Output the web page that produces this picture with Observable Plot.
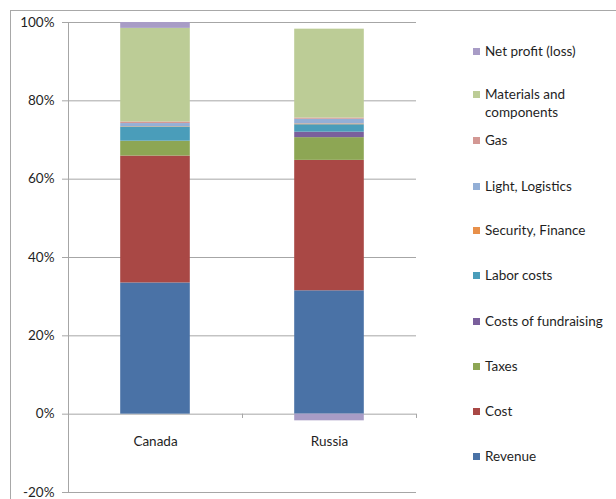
<!DOCTYPE html>
<html>
<head>
<meta charset="utf-8">
<script src="https://cdn.jsdelivr.net/npm/d3@7"></script>
<script src="https://cdn.jsdelivr.net/npm/@observablehq/plot@0.6"></script>
<style>
  html, body { margin: 0; padding: 0; background: #fff; }
  #wrap { position: relative; width: 616px; height: 499px; overflow: hidden; font-family: Lato, "Open Sans", sans-serif; }
  #border { position: absolute; left: 10px; top: 10px; width: 640px; height: 520px; border: 1px solid #a8a8a8; box-sizing: border-box; }
  #legend { position: absolute; left: 473px; top: 0; font-size: 13.5px; color: #1f1f1f; }
  .item { position: absolute; left: 0; white-space: nowrap; line-height: 18px; }
  .sw { position: absolute; left: 0; top: 6px; width: 7px; height: 7px; }
  .lbl { position: absolute; left: 12px; top: 0; }
</style>
</head>
<body>
<div id="wrap"><div id="border"></div><div id="chart"></div><div id="legend"></div></div>
<script>
const countries = ["Canada", "Russia"];
// bottom-to-top stacking order
const series = ["Revenue", "Cost", "Taxes", "Costs of fundraising", "Labor costs", "Security, Finance", "Light, Logistics", "Gas", "Materials and components", "Net profit (loss)"];
const colors = ["#4A72A6", "#A94845", "#8DA654", "#7A5F9C", "#4A9DBA", "#E8904A", "#93AFD6", "#D39894", "#BCCC96", "#A89CC6"];
const canadaValues = [33.5, 32.4, 3.8, 0.0, 3.6, 0.1, 0.8, 0.4, 23.9, 1.5];
const russiaValues = [31.5, 33.3, 5.8, 1.4, 1.9, 0.2, 1.2, 0.3, 22.7, -1.7];
const yTicks = [-20, 0, 20, 40, 60, 80, 100];
const legendOrder = ["Net profit (loss)", "Materials and components", "Gas", "Light, Logistics", "Security, Finance", "Labor costs", "Costs of fundraising", "Taxes", "Cost", "Revenue"];
const legendLabels = ["Net profit (loss)", "Materials and<br>components", "Gas", "Light, Logistics", "Security, Finance", "Labor costs", "Costs of fundraising", "Taxes", "Cost", "Revenue"];
const legendTops = [42, 85, 131, 177, 221, 266, 312, 357, 402, 447];

const valuesByCountry = [canadaValues, russiaValues];
const stacked = [];
countries.forEach((c, i) => {
  let pos = 0, neg = 0;
  valuesByCountry[i].forEach((v, j) => {
    if (v >= 0) { stacked.push({country: c, i, series: series[j], y1: pos, y2: pos + v}); pos += v; }
    else { stacked.push({country: c, i, series: series[j], y1: neg, y2: neg + v}); neg += v; }
  });
});

const half = 0.2;
const chart = Plot.plot({
  width: 616, height: 499,
  marginTop: 22, marginBottom: 7, marginLeft: 68, marginRight: 200,
  style: {fontFamily: "Lato, 'Open Sans', sans-serif", fontSize: "13.5px", color: "#1f1f1f", background: "transparent"},
  x: {domain: [0, 2], axis: null},
  y: {domain: [-20, 100], axis: null},
  color: {domain: series, range: colors},
  marks: [
    Plot.ruleY(yTicks, {stroke: "#a6a6a6", strokeWidth: 1}),
    Plot.axisY(yTicks, {tickSize: 6, tickPadding: 8, stroke: "#a6a6a6", fill: "#1f1f1f", tickFormat: d => d + "%", fontSize: 13.5}),
    Plot.ruleX([0], {y1: -20, y2: 100, stroke: "#a6a6a6"}),
    Plot.ruleX([0, 1, 2], {y1: 0, y2: -1.1, stroke: "#a6a6a6"}),
    Plot.rect(stacked, {x1: d => d.i + 0.5 - half, x2: d => d.i + 0.5 + half, y1: "y1", y2: "y2", fill: "series"}),
    Plot.text(countries, {x: (d, i) => i + 0.5, y: -7, text: d => d, fontSize: 13.5, fill: "#1f1f1f"})
  ]
});
document.getElementById("chart").appendChild(chart);

const legend = d3.select("#legend");
legendOrder.forEach((s, k) => {
  const it = legend.append("div").attr("class", "item").style("top", legendTops[k] + "px");
  it.append("div").attr("class", "sw").style("background", colors[series.indexOf(s)]);
  it.append("div").attr("class", "lbl").html(legendLabels[k]);
});
</script>
</body>
</html>
